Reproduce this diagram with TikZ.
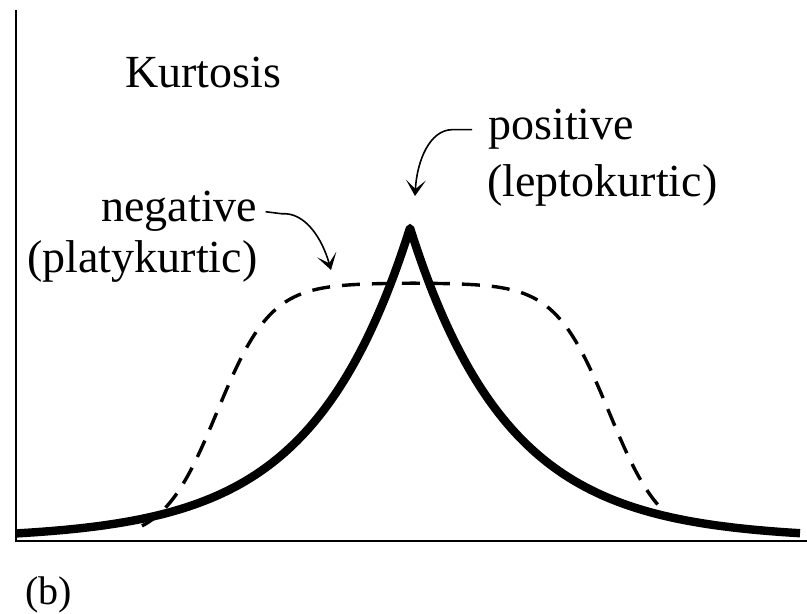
\documentclass[tikz,border=0pt]{standalone}
\usepackage{fontspec}
\setmainfont{Liberation Serif}
\usetikzlibrary{arrows.meta}

\begin{document}
\begin{tikzpicture}[x=0.5pt, y=0.5pt,
    txt/.style={anchor=base west, inner sep=0pt, font=\fontsize{23}{27}\selectfont},
    pointer/.style={line width=0.8pt, -{Stealth[length=8pt, width=10pt, inset=4.5pt]}},
    curve/.style={line width=4.2pt, line join=bevel},
    flat/.style={line width=1.7pt, dash pattern=on 9pt off 6pt}]

    % frame of the picture (pixels, y downwards as negative)
    \useasboundingbox (0,0) rectangle (807,-614);

    % ==========================================
    % 1. AXES
    % ==========================================
    \draw[line width=1pt] (16,-10) -- (16,-541) -- (807,-541);

    % ==========================================
    % 2. DISTRIBUTIONS
    % ==========================================
    % negative kurtosis: flat top
    \draw[flat] plot[domain=142:676, samples=220]
        (\x, {-541 + 258/(1+exp((abs(\x-413)-196)/27))});

    % positive kurtosis: sharp peak
    \draw[curve] plot[domain=16:410, samples=120]
        (\x, {-539 + 311*exp(-abs(\x-410)/98)})
        -- plot[domain=410:800, samples=120]
        (\x, {-539 + 311*exp(-abs(\x-410)/98)});

    % ==========================================
    % 3. LABELS
    % ==========================================
    \node[txt] (title) at (125,-88) {Kurtosis};
    \node[txt] (neg) at (101,-222) {negative};
    \node[txt] (negsub) at (27,-273) {(platykurtic)};
    \node[txt] (pos) at (488,-140) {positive};
    \node[txt] (possub) at (487,-197) {(leptokurtic)};
    \node[txt, font=\fontsize{20}{24}\selectfont] (panel) at (25,-604) {(b)};

    % ==========================================
    % 4. POINTERS
    % ==========================================
    \coordinate (negtip) at (331,-270);
    \coordinate (postip) at (415,-196);

    \draw[pointer] ([xshift=4pt]neg.east) -- ++(16,-2)
        .. controls (305,-212) and (322,-238) .. (negtip);
    \draw[pointer] ([xshift=-8pt]pos.west) -- ++(-20,0)
        .. controls (430,-130) and (417,-160) .. (postip);

\end{tikzpicture}
\end{document}
